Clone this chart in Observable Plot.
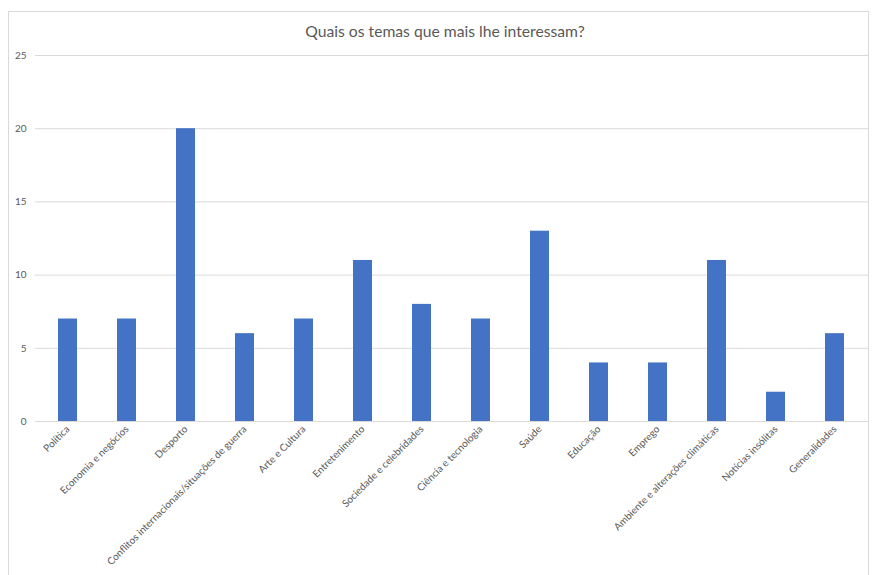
<!DOCTYPE html>
<html>
<head>
<meta charset="utf-8">
<script src="https://cdn.jsdelivr.net/npm/d3@7"></script>
<script src="https://cdn.jsdelivr.net/npm/@observablehq/plot@0.6"></script>
<style>
  html, body { margin: 0; padding: 0; background: #fff; }
  #wrap { position: relative; width: 872px; height: 575px; overflow: hidden; font-family: Lato, "Open Sans", sans-serif; }
  #frame { position: absolute; left: 8px; top: 11px; width: 861px; height: 600px; border: 1px solid #d9d9d9; box-sizing: border-box; }
  #title { position: absolute; left: 0; width: 890px; top: 22px; text-align: center; font-size: 15.7px; color: #595959; }
  #chart { position: absolute; left: 0; top: 0; }
</style>
</head>
<body>
<div id="wrap">
  <div id="frame"></div>
  <div id="chart"></div>
  <div id="title">Quais os temas que mais lhe interessam?</div>
</div>
<script>
const categories = [
  "Política",
  "Economia e negócios",
  "Desporto",
  "Conflitos internacionais/situações de guerra",
  "Arte e Cultura",
  "Entretenimento",
  "Sociedade e celebridades",
  "Ciência e tecnologia",
  "Saúde",
  "Educação",
  "Emprego",
  "Ambiente e alterações climáticas",
  "Notícias insólitas",
  "Generalidades"
];
const values = [7, 7, 20, 6, 7, 11, 8, 7, 13, 4, 4, 11, 2, 6];
const yTicks = [0, 5, 10, 15, 20, 25];

const data = categories.map((c, i) => ({category: c, value: values[i]}));

const chart = Plot.plot({
  width: 872,
  height: 575,
  marginLeft: 36,
  marginRight: 6,
  marginTop: 55,
  marginBottom: 154,
  style: {fontFamily: "Lato, 'Open Sans', sans-serif", background: "transparent", color: "#595959"},
  x: {domain: categories, paddingInner: 0.68, paddingOuter: 0.34, align: 0.5, label: null},
  y: {domain: [0, 25], label: null},
  marks: [
    Plot.ruleY(yTicks, {stroke: "#d9d9d9", insetLeft: -1, insetRight: -2}),
    Plot.axisY(yTicks, {tickSize: 0, tickPadding: 10, fontSize: 10, fill: "#595959"}),
    Plot.barY(data, {x: "category", y: "value", fill: "#4472C4"}),
    Plot.axisX({tickSize: 0, tickPadding: 6, tickRotate: -45, fontSize: 10, fill: "#595959"})
  ]
});
document.getElementById("chart").appendChild(chart);
</script>
</body>
</html>
